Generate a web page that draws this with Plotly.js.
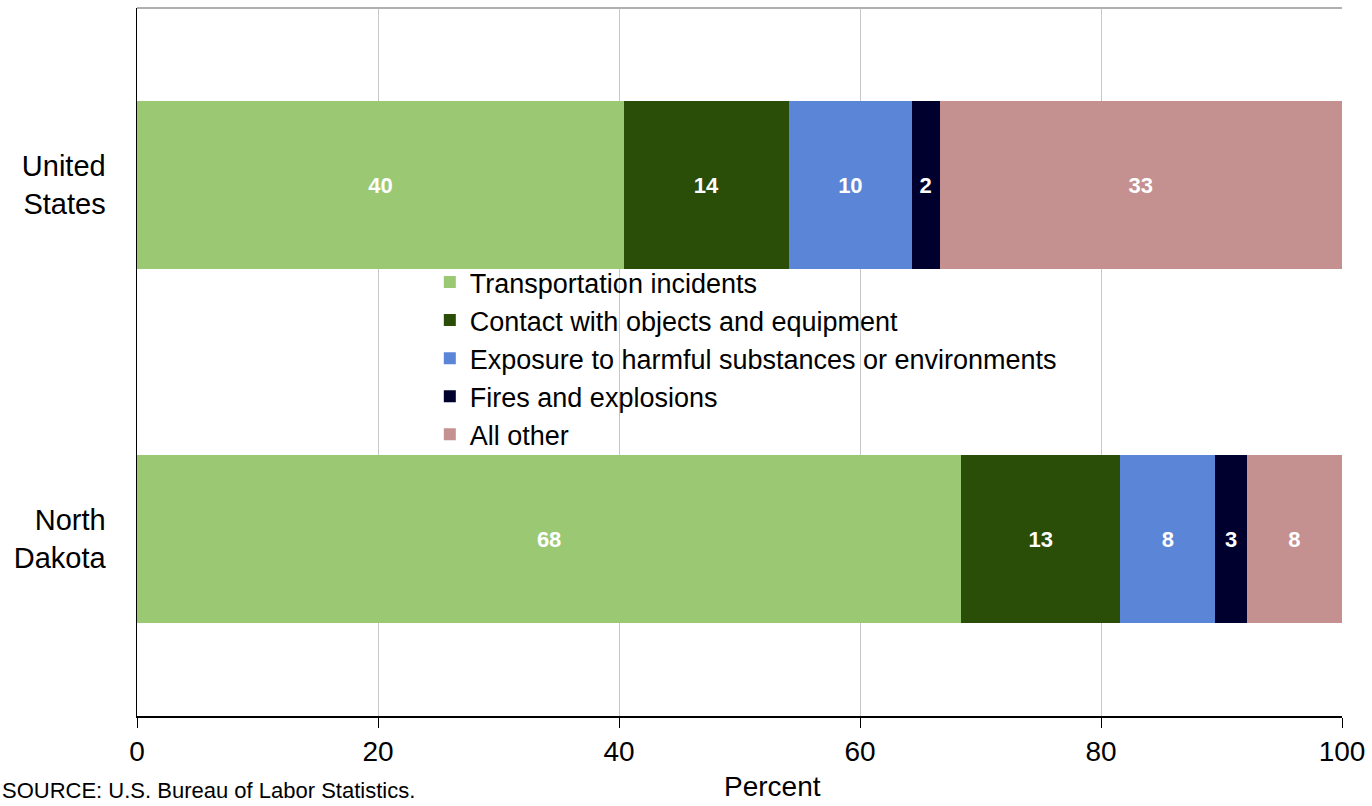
<!DOCTYPE html>
<html>
<head>
<meta charset="utf-8">
<script src="https://cdn.plot.ly/plotly-3.0.1.min.js"></script>
<style>html,body{margin:0;padding:0;background:#fff;}#chart{width:1372px;height:806px;}</style>
</head>
<body>
<div id="chart"></div>
<script>
const regions = ["United<br>States", "North<br>Dakota"];
const seriesNames = [
  "Transportation incidents",
  "Contact with objects and equipment",
  "Exposure to harmful substances or environments",
  "Fires and explosions",
  "All other"
];
const transportation = [40.4, 68.4];
const contact = [13.7, 13.2];
const exposure = [10.2, 7.9];
const fires = [2.3, 2.6];
const allOther = [33.4, 7.9];
const colors = ["#9BC873", "#2A4D07", "#5B85D6", "#00002E", "#C49090"];
const xTicks = [0, 20, 40, 60, 80, 100];

const FONT = "Liberation Sans, Arial, sans-serif";
const values = [transportation, contact, exposure, fires, allOther];
const traces = values.map((v, i) => ({
  type: "bar",
  orientation: "h",
  name: seriesNames[i],
  y: regions,
  x: v,
  width: 0.475,
  marker: {color: colors[i], line: {width: 0}},
  texttemplate: "%{x:.0f}",
  textposition: "inside",
  insidetextanchor: "middle",
  textangle: 0,
  textfont: {family: FONT, size: 22, color: "#ffffff", weight: "bold"},
  hoverinfo: "skip"
}));

const layout = {
  width: 1372,
  height: 806,
  margin: {l: 137, r: 30, t: 8, b: 90},
  paper_bgcolor: "#ffffff",
  plot_bgcolor: "#ffffff",
  barmode: "stack",
  showlegend: true,
  legend: {
    x: 0.243, y: 0.647, xanchor: "left", yanchor: "top",
    bgcolor: "rgba(0,0,0,0)",
    traceorder: "normal",
    font: {family: FONT, size: 27, color: "#000"},
    itemwidth: 30,
    tracegroupgap: 0
  },
  xaxis: {
    range: [0, 100],
    tickvals: xTicks,
    ticktext: xTicks.map(String),
    showgrid: true,
    gridcolor: "#c8c8c8",
    gridwidth: 1,
    zeroline: false,
    showline: true,
    linecolor: "#000",
    linewidth: 1.5,
    ticks: "outside",
    ticklen: 10,
    tickcolor: "#000",
    tickfont: {family: FONT, size: 28, color: "#000"},
    fixedrange: true
  },
  yaxis: {
    categoryorder: "array",
    categoryarray: regions.slice().reverse(),
    showgrid: false,
    zeroline: false,
    showline: true,
    linecolor: "#000",
    linewidth: 1.5,
    ticks: "",
    ticklabelstandoff: 24,
    tickfont: {family: FONT, size: 29, color: "#000"},
    fixedrange: true
  },
  shapes: [
    {type: "line", xref: "paper", yref: "paper", x0: 0, x1: 1, y0: 1, y1: 1, line: {color: "#b0b0b0", width: 2}}
  ],
  annotations: [
    {text: "Percent", xref: "paper", yref: "paper", x: 0.527, y: -0.099,
     xanchor: "center", yanchor: "middle", showarrow: false,
     font: {family: FONT, size: 28, color: "#000"}},
    {text: "SOURCE: U.S. Bureau of Labor Statistics.", xref: "paper", yref: "paper", x: -0.114, y: -0.105,
     xanchor: "left", yanchor: "middle", showarrow: false,
     font: {family: FONT, size: 22, color: "#000"}}
  ]
};

Plotly.newPlot("chart", traces, layout, {displayModeBar: false, staticPlot: true});
</script>
</body>
</html>
